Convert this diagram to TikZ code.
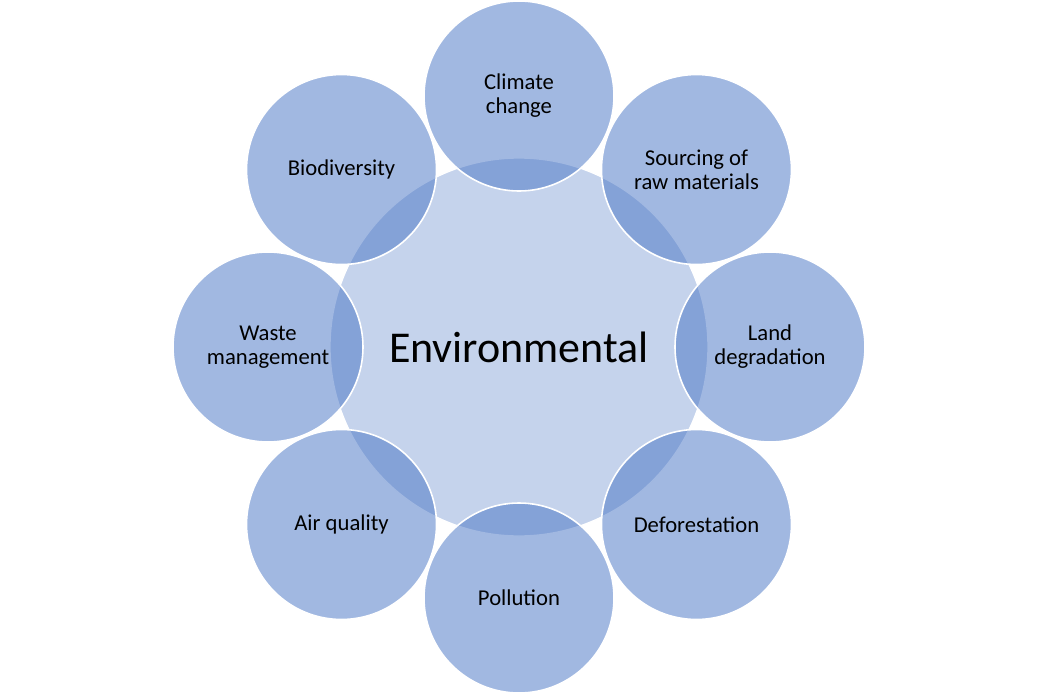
\documentclass[tikz,border=0pt]{standalone}
\usepackage{fontspec}
\setmainfont{Carlito}
\usepackage{tikz}
\usetikzlibrary{shapes}
\definecolor{accent}{HTML}{4472C4}
\definecolor{hubfill}{RGB}{197,211,236}
\tikzstyle{hub}=[circle,fill=hubfill,draw=white,line width=1pt,minimum size=283.5pt,inner sep=0pt,font=\fontsize{33}{36}\selectfont]
\tikzstyle{petal}=[circle,fill=accent,fill opacity=0.5,text opacity=1,draw=white,draw opacity=1,line width=1.2pt,minimum size=142.5pt,inner sep=0pt,align=center,font=\fontsize{17}{18}\selectfont]

\begin{document}
\begin{tikzpicture}[x=0.75pt,y=0.75pt]
    \useasboundingbox (-519,-347) rectangle (520,347);
    % The big circle in the middle
    \node[hub] (env) at (0,0) {Environmental};

    % Then the eight topics around it
    \foreach \ang/\name/\txt in {90/climate/{Climate\\change}, 45/sourcing/{Sourcing of\\raw materials}, 0/land/{Land\\degradation}, -45/defor/{Deforestation}, -90/pollution/{Pollution}, -135/air/{Air quality}, 180/waste/{Waste\\management}, 135/biodiv/{Biodiversity}}
        \node[petal] (\name) at (\ang:251) {\txt};

\end{tikzpicture}
\end{document}
